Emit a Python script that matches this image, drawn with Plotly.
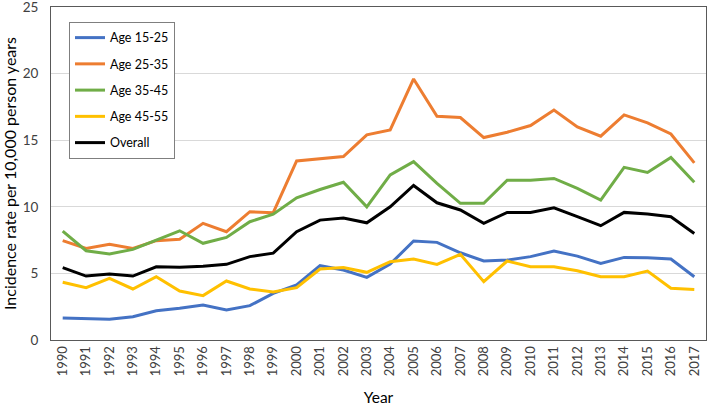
import plotly.graph_objects as go

years = [str(y) for y in range(1990, 2018)]

age_15_25 = [1.65, 1.6, 1.55, 1.75, 2.2, 2.38, 2.63, 2.25, 2.58, 3.5,
             4.13, 5.58, 5.25, 4.7, 5.7, 7.43, 7.33, 6.55, 5.93, 6.0,
             6.26, 6.68, 6.3, 5.75, 6.2, 6.17, 6.08, 4.75]
age_25_35 = [7.46, 6.88, 7.18, 6.88, 7.46, 7.56, 8.76, 8.13, 9.63, 9.56,
             13.44, 13.6, 13.77, 15.4, 15.77, 19.6, 16.8, 16.7, 15.2, 15.6,
             16.1, 17.27, 16.0, 15.3, 16.9, 16.3, 15.47, 13.3]
age_35_45 = [8.18, 6.7, 6.46, 6.8, 7.5, 8.2, 7.26, 7.7, 8.88, 9.45,
             10.68, 11.3, 11.84, 10.0, 12.39, 13.39, 11.76, 10.26, 10.26, 12.0,
             12.0, 12.13, 11.38, 10.5, 12.96, 12.58, 13.7, 11.84]
age_45_55 = [4.33, 3.93, 4.63, 3.83, 4.75, 3.68, 3.33, 4.43, 3.83, 3.6,
             3.93, 5.33, 5.45, 5.08, 5.88, 6.08, 5.68, 6.43, 4.38, 5.93,
             5.5, 5.5, 5.2, 4.75, 4.75, 5.18, 3.88, 3.8]
overall = [5.43, 4.8, 4.95, 4.8, 5.5, 5.46, 5.53, 5.68, 6.26, 6.52,
           8.13, 9.0, 9.16, 8.8, 10.0, 11.6, 10.3, 9.76, 8.76, 9.58,
           9.58, 9.93, 9.26, 8.58, 9.58, 9.46, 9.26, 8.0]

series = [
    ("Age 15-25", age_15_25, "#4472C4"),
    ("Age 25-35", age_25_35, "#ED7D31"),
    ("Age 35-45", age_35_45, "#70AD47"),
    ("Age 45-55", age_45_55, "#FFC000"),
    ("Overall", overall, "#000000"),
]

fig = go.Figure()
for name, vals, color in series:
    fig.add_trace(go.Scatter(
        x=years, y=vals, name=name, mode="lines",
        line=dict(color=color, width=3),
        legendgroup=name,
    ))

font_family = "Lato"
fig.update_layout(
    width=709, height=406,
    margin=dict(l=51, r=3, t=7, b=66),
    paper_bgcolor="white", plot_bgcolor="white",
    font=dict(family=font_family, size=12, color="#404040"),
    legend=dict(
        x=0.0275, y=0.955, xanchor="left", yanchor="top",
        bgcolor="white", bordercolor="#7f7f7f", borderwidth=1,
        font=dict(size=12.5, color="#000000"),
        traceorder="grouped", tracegroupgap=7,
    ),
    xaxis=dict(
        type="category", tickangle=-90, range=[-0.5, 27.5],
        automargin=False,
        showline=True, linecolor="#595959", linewidth=1, mirror=True,
        showgrid=False, ticks="",
        tickfont=dict(size=13, color="#404040"),
        title=dict(text="Year", font=dict(size=15.5, color="#000000"), standoff=16),
    ),
    yaxis=dict(
        range=[0, 25], dtick=5, automargin=False,
        showline=True, linecolor="#595959", linewidth=1, mirror=True,
        showgrid=True, gridcolor="#d9d9d9", gridwidth=1,
        zeroline=False, ticks="", ticklabelstandoff=9,
        ticklabeloverflow="allow",
        tickfont=dict(size=13.5, color="#404040"),
        title=dict(text="Incidence rate per 10,000 person years",
                   font=dict(size=16, color="#000000"), standoff=10),
    ),
)

fig.write_html("out.html", config={"displayModeBar": False},
               post_script="document.body.style.margin='0px';")
